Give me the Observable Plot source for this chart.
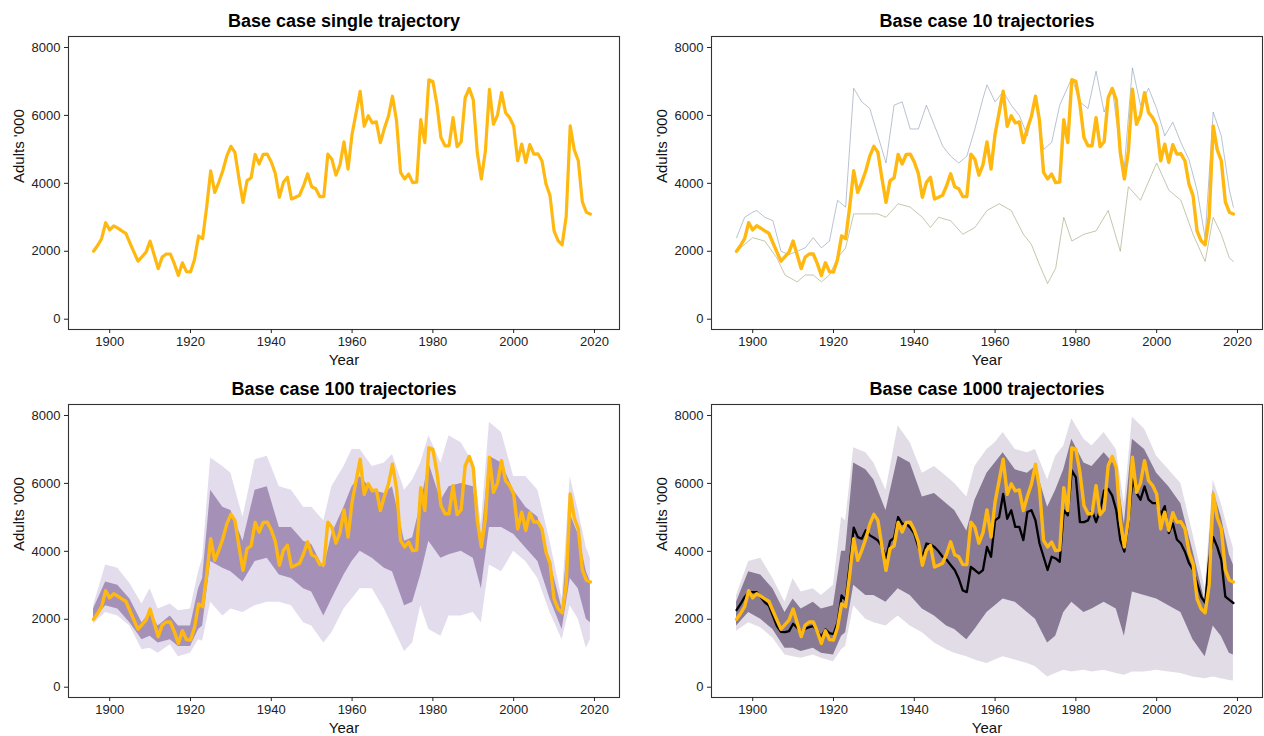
<!DOCTYPE html>
<html><head><meta charset="utf-8">
<script src="https://cdn.jsdelivr.net/npm/d3@7"></script>
<script src="https://cdn.jsdelivr.net/npm/@observablehq/plot@0.6"></script>
<style>
body{margin:0;background:#fff;}
#root{position:relative;width:1264px;height:736px;font-family:"Liberation Sans",Arial,sans-serif;}
.panel{position:absolute;}
</style></head><body><div id="root"></div>
<script>
// ---------- data ----------
const titles = ["Base case single trajectory","Base case 10 trajectories","Base case 100 trajectories","Base case 1000 trajectories"];
const xTicks = [1900,1920,1940,1960,1980,2000,2020];
const yTicks = [0,2000,4000,6000,8000];

const years = [1896,1897,1898,1899,1900,1901,1902,1903,1904,1905,1906,1907,1908,1909,1910,1911,1912,1913,1914,1915,1916,1917,1918,1919,1920,1921,1922,1923,1924,1925,1926,1927,1928,1929,1930,1931,1932,1933,1934,1935,1936,1937,1938,1939,1940,1941,1942,1943,1944,1945,1946,1947,1948,1949,1950,1951,1952,1953,1954,1955,1956,1957,1958,1959,1960,1961,1962,1963,1964,1965,1966,1967,1968,1969,1970,1971,1972,1973,1974,1975,1976,1977,1978,1979,1980,1981,1982,1983,1984,1985,1986,1987,1988,1989,1990,1991,1992,1993,1994,1995,1996,1997,1998,1999,2000,2001,2002,2003,2004,2005,2006,2007,2008,2009,2010,2011,2012,2013,2014,2015,2016,2017,2018,2019];

// base case trajectory (orange)
const baseCase = [2000,2170,2370,2840,2630,2750,2680,2600,2530,2250,1975,1710,1840,1975,2300,1900,1490,1830,1920,1920,1635,1290,1660,1400,1390,1760,2450,2370,3300,4370,3735,4030,4370,4810,5090,4910,4140,3440,4080,4160,4850,4570,4850,4860,4630,4290,3590,4030,4180,3540,3590,3650,3930,4280,3900,3840,3610,3610,4860,4710,4240,4540,5220,4420,5450,6080,6710,5680,5990,5780,5810,5200,5620,5975,6565,5850,4320,4130,4275,4020,4035,5875,5200,7050,7000,6330,5350,5105,5105,5935,5080,5225,6520,6795,6460,4900,4130,4950,6770,5740,6010,6670,6080,5935,5690,4665,5155,4615,5140,4860,4870,4665,3980,3640,2600,2310,2190,3015,5690,4985,4665,3455,3150,3095];

// mean of 1000 trajectories (black)
const mean1000 = [2270,2450,2650,2800,2800,2800,2650,2500,2400,2100,1800,1630,1620,1650,1870,1750,1620,1720,1770,1800,1650,1490,1700,1590,1560,1900,2700,2560,3600,4700,4420,4370,4620,4470,4400,4320,4150,3800,4300,4400,5010,4810,4810,4700,4520,4130,3840,4230,4200,4130,4000,3840,3750,3600,3450,3200,2850,2800,3540,3450,3350,3450,4130,3840,4910,5000,5690,4960,5210,4720,4720,4330,5160,5210,4910,4230,3840,3450,3840,3790,3690,5210,5060,6380,6180,4860,4860,4910,5210,4860,5210,5790,5840,5640,5210,4330,3990,4820,6110,5720,5520,5910,5520,5420,5420,5080,5330,4540,4820,4350,4230,3990,3650,3460,3060,2670,2480,3740,4420,4130,3740,2670,2570,2480];

// 10 trajectories: upper and lower outlying runs
const p2HiYears = [1896,1898,1900,1901,1903,1905,1907,1909,1911,1913,1915,1917,1919,1921,1923,1925,1927,1929,1931,1933,1935,1937,1939,1941,1943,1945,1947,1949,1951,1953,1955,1957,1958,1960,1962,1964,1966,1968,1970,1972,1974,1976,1979,1981,1983,1985,1987,1989,1991,1992,1994,1996,1998,2000,2002,2004,2006,2008,2010,2012,2014,2016,2018,2019];
const p2Hi = [2400,3000,3150,3200,3000,2900,2000,1900,2000,2100,2400,2100,2300,3500,3300,6800,6400,6200,5400,4600,6300,6400,5600,5600,6300,5700,5100,4800,4600,4800,5600,6500,6900,6400,6700,6300,6000,5400,6500,5000,5200,6300,7100,6400,6200,7300,6100,6800,5000,4500,7400,6300,6800,6200,5400,5800,5200,4700,3800,2400,6100,5400,3800,3300];
const p2LoYears = [1896,1900,1903,1906,1908,1911,1913,1915,1917,1919,1921,1923,1925,1928,1931,1933,1936,1939,1942,1944,1946,1949,1952,1955,1958,1961,1964,1967,1969,1971,1973,1975,1977,1979,1982,1985,1988,1991,1993,1996,2000,2003,2006,2009,2012,2014,2016,2018,2019];
const p2Lo = [2000,2400,2300,1800,1300,1100,1300,1300,1100,1300,1800,2100,3100,3100,3100,3000,3400,3300,3000,2700,3000,2900,2500,2700,3200,3400,3200,2500,2200,1600,1050,1500,3000,2300,2500,2600,3200,2000,3900,3500,4600,3800,3500,2500,1700,3000,2500,1800,1700];

// 100 and 1000 trajectories: envelope (min/max) and dense core
const envYears = [1896,1899,1902,1905,1908,1910,1912,1915,1917,1920,1922,1923,1925,1928,1930,1933,1936,1939,1942,1945,1948,1950,1953,1955,1958,1960,1962,1965,1968,1970,1973,1975,1977,1979,1982,1984,1987,1990,1992,1994,1997,2000,2003,2006,2009,2012,2014,2016,2018,2019];
const p3Hi = [2400,3600,3500,3050,2450,2900,2300,2450,2250,2300,3400,3800,6750,6500,6300,5000,6700,6800,5900,5800,5300,5300,4900,5900,6500,7000,7000,6500,6600,6850,5800,6100,6600,7400,6600,7400,7200,6600,4800,7800,7500,6200,6200,5800,4300,2600,6200,5200,4100,3800];
const p3Lo = [1850,2200,2100,1800,1100,1150,1000,1250,900,1000,1400,1350,2500,2100,2300,2200,2400,2500,2500,2400,1900,1800,1300,1600,2300,2600,2900,2900,2300,1800,1050,1300,2400,1700,1500,2100,2100,2200,1900,3600,3400,4000,3700,3200,2200,1400,2400,2000,1150,1400];
const p3CoreHi = [2300,3100,3000,2600,1900,2200,1800,2100,1800,1800,2900,3200,5800,5300,5200,4300,5800,5900,4700,4700,4300,4200,3500,4500,5300,5900,6200,5800,5700,5900,4300,4400,5400,6600,5500,5900,6000,5900,4300,6800,6600,5800,5300,5000,3700,2300,5100,4500,3400,3100];
const p3CoreLo = [1950,2400,2300,1900,1400,1500,1300,1400,1200,1200,1700,1800,3700,3500,3400,3100,3700,3800,3300,3200,2900,2800,2100,2600,3300,3700,4000,3800,3500,3400,2400,2500,3300,4300,3800,3900,4000,3800,2900,4700,4700,4500,4100,3700,2600,1700,3200,2900,2000,1900];
const p4Hi = [2700,3700,3800,3200,2500,3200,2800,2900,2700,3000,5000,4900,7050,6900,6600,5800,7700,7200,6300,6500,6200,6000,5600,6500,7000,7200,7500,7000,6900,7000,6100,6800,7100,7900,7300,7100,7500,7000,5400,7950,7600,6800,6400,6000,4500,2900,6100,5400,4500,4100];
const p4Lo = [1650,1900,1750,1450,950,900,850,950,850,750,1100,1200,2400,2000,1900,1800,2100,1800,1600,1300,1100,1000,900,800,700,800,900,800,700,600,300,400,500,450,500,450,500,400,350,450,450,500,450,400,300,250,300,250,200,180];
const p4CoreHi = [2500,3400,3300,2900,2200,2600,2300,2500,2300,2400,4000,4000,6600,6400,6100,5200,6800,6600,5600,5700,5400,5200,4600,5500,6300,6600,6900,6400,6300,6500,5300,5800,6400,7300,6600,6500,6900,6500,4800,7300,7000,6300,5900,5400,4000,2500,5800,5000,3900,3600];
const p4CoreLo = [1800,2200,2000,1700,1150,1150,1050,1150,1000,950,1500,1600,3000,2700,2700,2500,2900,2700,2300,2100,1800,1700,1400,1700,2200,2400,2600,2500,2200,2000,1300,1500,2200,2500,2200,2300,2500,2300,1500,2800,2700,2600,2400,2200,1400,900,1800,1500,1000,950];

// ---------- helpers ----------
const series = (xs, ys) => xs.map((x, i) => ({year: x, value: ys[i]}));
const band = (xs, lo, hi) => xs.map((x, i) => ({year: x, lo: lo[i], hi: hi[i]}));
const ORANGE = "#FFB80F";

function panel(title, marks, ml, mr) {
  return Plot.plot({
    width: 632, height: 368,
    marginLeft: ml, marginRight: mr, marginTop: 36, marginBottom: 39,
    style: {fontFamily: "'Liberation Sans', Arial, sans-serif", background: "transparent", color: "#222"},
    x: {domain: [1889.8, 2026.2]},
    y: {domain: [-303, 8323]},
    marks: [
      ...marks,
      Plot.frame({stroke: "#333", strokeWidth: 1.1}),
      Plot.axisX({ticks: xTicks, tickFormat: d => String(d), tickSize: 4, tickPadding: 3, fontSize: 13, label: null}),
      Plot.axisY({ticks: yTicks, tickFormat: d => String(d), tickSize: 4, tickPadding: 4, fontSize: 13, label: null}),
      Plot.text([title], {text: d => d, frameAnchor: "top", lineAnchor: "middle", dy: -15, fontSize: 18, fontWeight: "bold", fill: "#000"}),
      Plot.text(["Year"], {text: d => d, frameAnchor: "bottom", lineAnchor: "middle", dy: 31, fontSize: 15, fill: "#111"}),
      Plot.text(["Adults '000"], {text: d => d, frameAnchor: "left", lineAnchor: "middle", dx: -49, rotate: -90, fontSize: 15, fill: "#111"})
    ]
  });
}

const base = series(years, baseCase);
const orangeLine = w => Plot.line(base, {x: "year", y: "value", stroke: ORANGE, strokeWidth: w, strokeLinejoin: "round"});

const p1 = panel(titles[0], [orangeLine(3.2)], 68, 13);

const p2 = panel(titles[1], [
  Plot.line(series(p2HiYears, p2Hi), {x: "year", y: "value", stroke: "#8093ad", strokeWidth: 0.8, strokeOpacity: 0.7}),
  Plot.line(series(p2LoYears, p2Lo), {x: "year", y: "value", stroke: "#a3a67f", strokeWidth: 0.8, strokeOpacity: 0.8}),
  orangeLine(3.4)
], 79, 2);

const p3 = panel(titles[2], [
  Plot.areaY(band(envYears, p3Lo, p3Hi), {x: "year", y1: "lo", y2: "hi", fill: "#b9a8d0", fillOpacity: 0.4}),
  Plot.areaY(band(envYears, p3CoreLo, p3CoreHi), {x: "year", y1: "lo", y2: "hi", fill: "#7b5d96", fillOpacity: 0.6}),
  orangeLine(3.4)
], 68, 13);

const p4 = panel(titles[3], [
  Plot.areaY(band(envYears, p4Lo, p4Hi), {x: "year", y1: "lo", y2: "hi", fill: "#b3a7c0", fillOpacity: 0.4}),
  Plot.areaY(band(envYears, p4CoreLo, p4CoreHi), {x: "year", y1: "lo", y2: "hi", fill: "#6a5a78", fillOpacity: 0.75}),
  Plot.line(series(years, mean1000), {x: "year", y: "value", stroke: "#000", strokeWidth: 2.3}),
  orangeLine(3.4)
], 79, 2);

const root = document.getElementById("root");
[[p1, 0, 0], [p2, 632, 0], [p3, 0, 368], [p4, 632, 368]].forEach(([svg, left, top]) => {
  const d = document.createElement("div");
  d.className = "panel";
  d.style.left = left + "px";
  d.style.top = top + "px";
  d.appendChild(svg);
  root.appendChild(d);
});
</script>
</body></html>
